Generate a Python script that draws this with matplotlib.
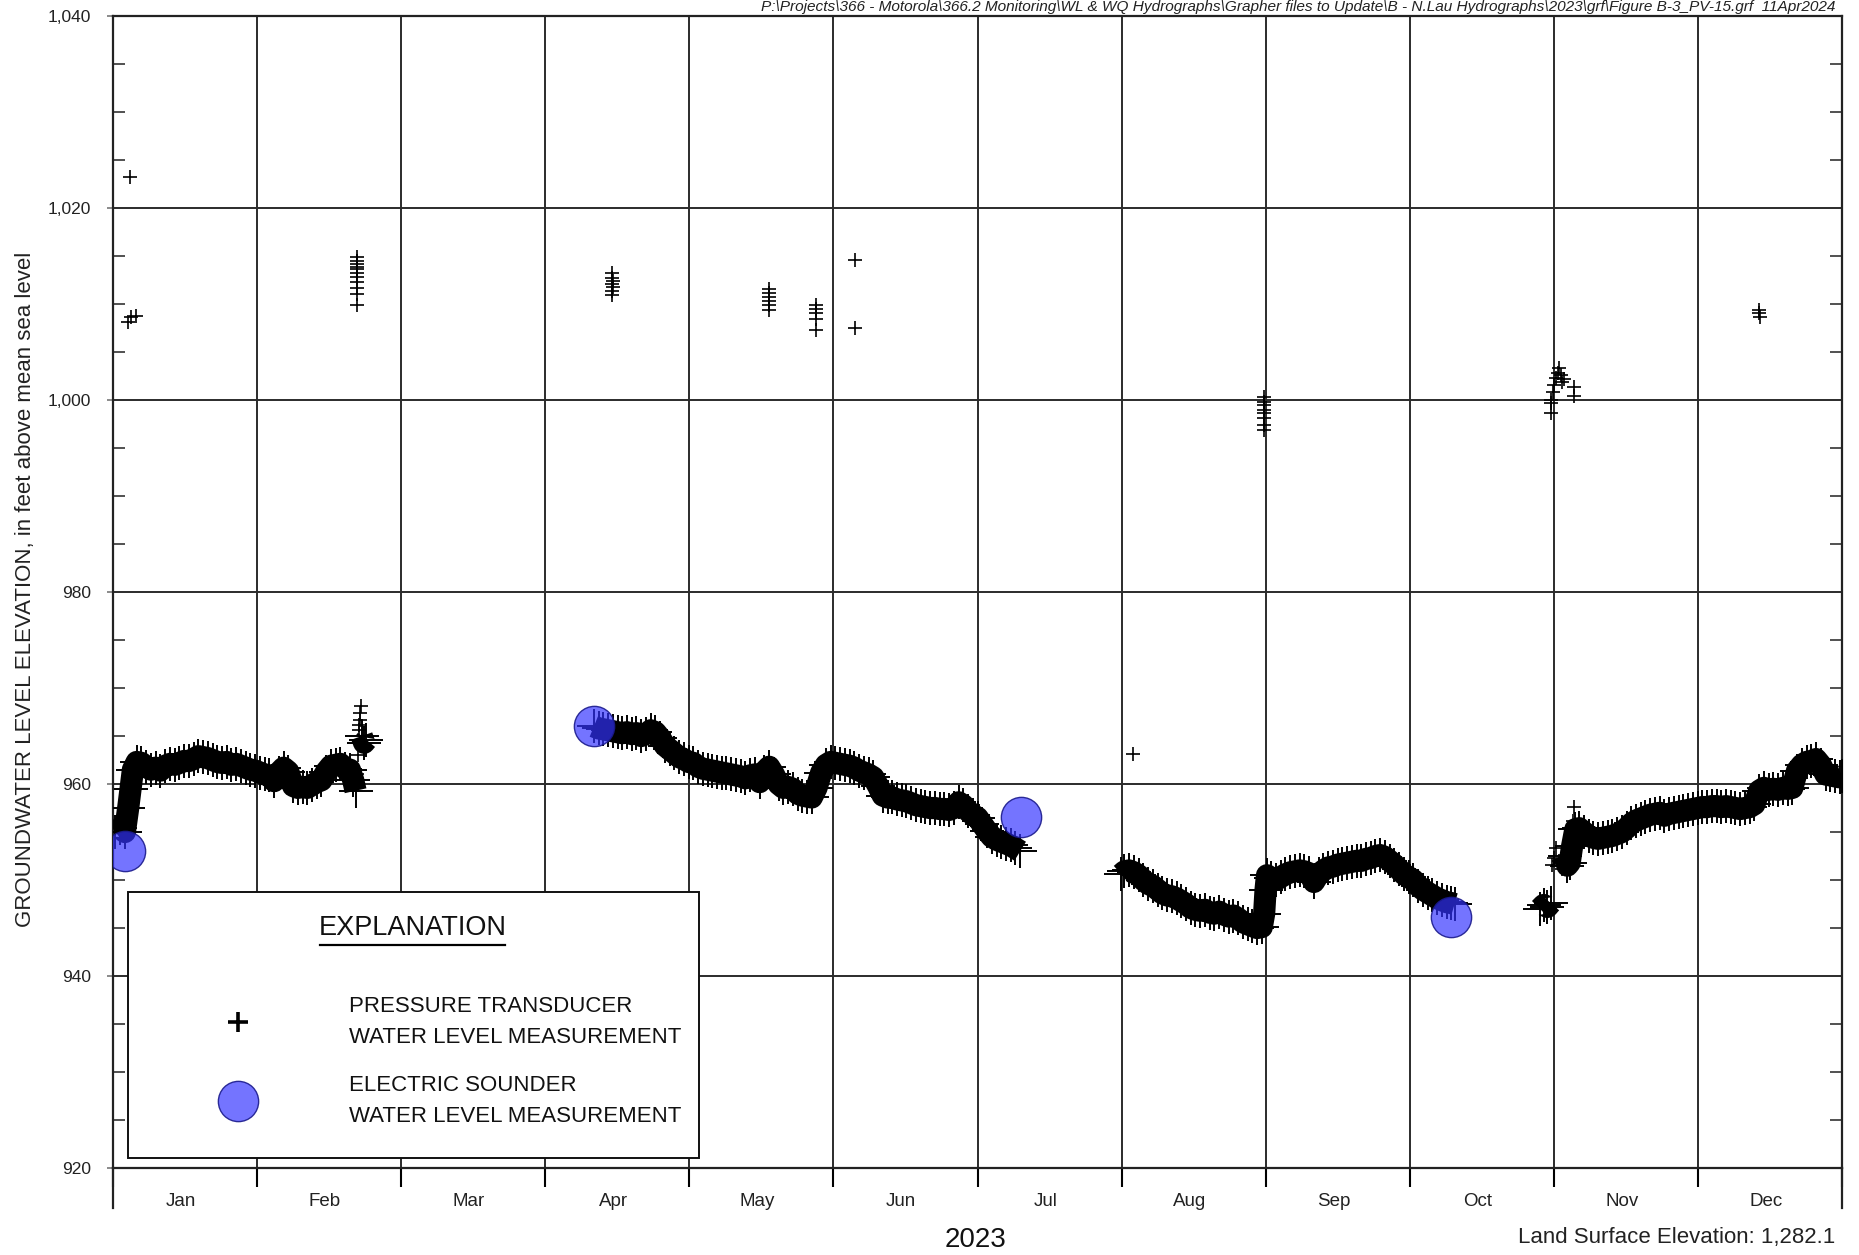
import numpy as np
import matplotlib.pyplot as plt
from matplotlib.ticker import MultipleLocator, FixedLocator, NullFormatter, FuncFormatter
from matplotlib.patches import Rectangle

plt.rcParams["font.family"] = ["Liberation Sans Narrow", "Liberation Sans", "DejaVu Sans"]

MONTHS = ["Jan", "Feb", "Mar", "Apr", "May", "Jun",
          "Jul", "Aug", "Sep", "Oct", "Nov", "Dec"]
YEAR = "2023"

# pressure transducer record, (day of year, elevation ft msl), one list per logger run
PT_JAN_FEB = [
    (0.5, 955.0), (1.5, 955.4), (2.5, 955.0), (3.2, 957.5), (3.7, 959.5), (4.2, 961.5),
    (5, 962.3), (6, 962.2), (7, 961.8), (8, 961.5), (9, 961.7), (10, 961.4),
    (11, 961.9), (12, 962.1), (13, 962.0), (14, 962.2), (15, 962.4), (16, 962.4),
    (17, 962.6), (18, 962.9), (19, 962.8), (20, 962.7), (21, 962.5), (22, 962.3),
    (23, 962.2), (24, 962.3), (25, 962.0), (26, 962.1), (27, 961.9), (28, 961.7),
    (29, 961.5), (30, 961.4), (31, 961.2), (32, 961.0), (33, 960.9), (34, 960.3),
    (35, 961.2), (36, 961.7), (37, 961.3), (38, 959.8), (39, 959.6), (40, 959.7),
    (41, 959.6), (42, 959.9), (43, 960.2), (44, 960.4), (45, 961.3), (46, 961.9),
    (47, 962.0), (48, 962.1), (49, 961.6), (50, 961.5), (50.7, 960.4), (51.2, 959.3),
]
PT_FEB_END = [(52.5, 965.0), (53.0, 964.3), (53.5, 964.6)]
PT_APR_JUN = [
    (101.5, 966.0), (102.5, 965.8), (103.5, 965.7), (104.5, 965.6), (105.5, 965.5),
    (106.5, 965.4), (107.5, 965.3), (108.5, 965.4), (109.5, 965.2), (110.5, 965.3),
    (111.5, 965.0), (112.5, 965.2), (113.5, 965.6), (114.5, 965.4), (115.5, 964.8),
    (116.5, 964.0), (117.5, 963.6), (118.5, 963.2), (119.5, 962.8), (120.5, 962.6),
    (121.5, 962.3), (122.5, 962.2), (123.5, 961.8), (124.5, 961.6), (125.5, 961.5),
    (126.5, 961.4), (127.5, 961.3), (128.5, 961.2), (129.5, 961.1), (130.5, 961.0),
    (131.5, 960.9), (132.5, 960.8), (133.5, 960.6), (134.5, 960.9), (135.5, 961.0),
    (136.5, 960.2), (137.5, 961.3), (138.5, 961.8), (139.5, 961.0), (140.5, 960.0),
    (141.5, 959.6), (142.5, 959.7), (143.5, 959.5), (144.5, 959.0), (145.5, 958.8),
    (146.5, 958.7), (147.5, 958.6), (148.5, 959.6), (149.5, 961.2), (150.5, 962.0),
    (151.5, 962.3), (152.5, 962.2), (153.5, 962.1), (154.5, 962.0), (155.5, 961.9),
    (156.5, 961.7), (157.5, 961.4), (158.5, 961.2), (159.5, 961.0), (160.5, 960.7),
    (161.5, 959.8), (162.5, 958.8), (163.5, 958.6), (164.5, 958.6), (165.5, 958.4),
    (166.5, 958.3), (167.5, 958.2), (168.5, 958.0), (169.5, 957.8), (170.5, 957.7),
    (171.5, 957.6), (172.5, 957.5), (173.5, 957.5), (174.5, 957.4), (175.5, 957.4),
    (176.5, 957.3), (177.5, 957.5), (178.5, 958.1), (179.5, 957.8), (180.5, 957.2),
    (181.5, 956.8), (182.5, 956.5), (183.5, 955.8), (184.5, 955.1), (185.5, 954.5),
    (186.5, 954.2), (187.5, 954.0), (188.5, 953.8), (189.5, 953.6), (190.5, 953.3),
    (191.5, 953.0),
]
PT_AUG_OCT = [
    (212.8, 950.6), (213.5, 950.9), (214.5, 951.0), (215.5, 950.8), (216.5, 950.5),
    (217.5, 950.0), (218.5, 949.6), (219.5, 949.4), (220.5, 949.0), (221.5, 948.6),
    (222.5, 948.4), (223.5, 948.3), (224.5, 948.1), (225.5, 947.8), (226.5, 947.5),
    (227.5, 947.1), (228.5, 946.9), (229.5, 946.8), (230.5, 946.9), (231.5, 946.6),
    (232.5, 946.5), (233.5, 946.7), (234.5, 946.4), (235.5, 946.2), (236.5, 946.3),
    (237.5, 946.0), (238.5, 945.6), (239.5, 945.4), (240.5, 945.2), (241.5, 945.0),
    (242.5, 945.1), (243.0, 946.5), (243.3, 949.0), (243.6, 950.5), (244.5, 950.2),
    (245.5, 950.0), (246.5, 950.3), (247.5, 950.6), (248.5, 950.8), (249.5, 950.9),
    (250.5, 951.0), (251.5, 950.9), (252.5, 950.7), (253.5, 949.8), (254.5, 950.6),
    (255.5, 951.0), (256.5, 951.3), (257.5, 951.4), (258.5, 951.6), (259.5, 951.7),
    (260.5, 951.8), (261.5, 951.9), (262.5, 952.0), (263.5, 952.0), (264.5, 952.2),
    (265.5, 952.3), (266.5, 952.5), (267.5, 952.6), (268.5, 952.4), (269.5, 952.0),
    (270.5, 951.6), (271.5, 951.1), (272.5, 950.6), (273.5, 950.3), (274.5, 950.0),
    (275.5, 949.4), (276.5, 949.0), (277.5, 948.7), (278.5, 948.4), (279.5, 948.1),
    (280.5, 947.9), (281.5, 947.7), (282.5, 947.6), (283.2, 947.5),
]
PT_OCT_END = [(301.2, 947.0), (302.0, 947.4), (302.8, 947.2), (303.5, 947.6)]
PT_NOV_DEC = [
    (306.5, 952.5), (307.0, 951.5), (307.5, 951.8), (308.0, 953.5), (308.7, 955.3),
    (309.5, 955.4), (310.5, 955.0), (311.5, 954.6), (312.5, 954.4), (313.5, 954.3),
    (314.5, 954.4), (315.5, 954.5), (316.5, 954.6), (317.5, 954.8), (318.5, 955.0),
    (319.5, 955.4), (320.5, 955.9), (321.5, 956.2), (322.5, 956.4), (323.5, 956.6),
    (324.5, 956.8), (325.5, 956.9), (326.5, 957.0), (327.5, 956.7), (328.5, 956.9),
    (329.5, 957.0), (330.5, 957.1), (331.5, 957.2), (332.5, 957.3), (333.5, 957.4),
    (334.5, 957.5), (335.5, 957.6), (336.5, 957.6), (337.5, 957.7), (338.5, 957.7),
    (339.5, 957.6), (340.5, 957.7), (341.5, 957.6), (342.5, 957.5), (343.5, 957.4),
    (344.5, 957.5), (345.5, 957.6), (346.5, 957.9), (347.5, 959.3), (348.5, 959.6),
    (349.5, 959.4), (350.5, 959.5), (351.5, 959.4), (352.5, 959.6), (353.5, 959.5),
    (354.5, 959.6), (355.5, 961.4), (356.5, 962.0), (357.5, 962.3), (358.5, 962.4),
    (359.5, 962.6), (360.5, 962.0), (361.5, 961.0), (362.5, 960.9), (363.5, 960.8),
    (364.5, 960.7), (365.0, 960.8),
]

# isolated transducer readings (logger pulled / re-installed)
PT_SCATTER = [
    (3.6, 1023.2), (3.2, 1008.1), (3.8, 1008.6), (4.8, 1008.8),
    (51.6, 1014.9), (51.6, 1014.5), (51.6, 1014.2), (51.6, 1013.9), (51.6, 1013.6),
    (51.6, 1013.2), (51.6, 1012.8), (51.6, 1012.3), (51.6, 1011.7), (51.6, 1011.0),
    (51.6, 1009.9),
    (51.5, 961.0), (51.7, 963.0), (51.85, 965.6), (51.95, 966.1), (52.05, 966.7),
    (52.15, 967.4), (52.25, 968.1),
    (105.4, 1013.2), (105.4, 1012.7), (105.5, 1012.4), (105.4, 1012.1), (105.5, 1011.8),
    (105.4, 1011.4), (105.3, 1010.9),
    (138.4, 1011.6), (138.4, 1011.1), (138.5, 1010.7), (138.4, 1010.3), (138.5, 1009.9),
    (138.4, 1009.4),
    (148.4, 1009.9), (148.5, 1009.5), (148.4, 1009.1), (148.4, 1008.4), (148.4, 1007.3),
    (156.6, 1014.6), (156.6, 1007.5),
    (215.3, 963.1),
    (242.9, 1000.3), (242.9, 999.8), (242.9, 999.5), (242.9, 999.0), (242.9, 998.6),
    (242.9, 998.1), (242.9, 997.4), (242.9, 996.9),
    (303.6, 1000.0), (303.6, 999.7), (303.6, 998.6), (303.9, 1000.8), (304.2, 1001.6),
    (304.6, 1002.3), (305.0, 1002.8), (305.3, 1003.3), (305.6, 1002.6), (305.9, 1001.9),
    (306.2, 1002.2), (308.4, 1001.4), (308.4, 1000.4),
    (303.8, 951.6), (304.2, 952.3), (304.6, 953.3), (305.2, 952.0), (305.8, 951.2),
    (307.6, 953.5), (307.9, 954.7), (308.1, 955.4), (308.3, 956.1), (308.5, 957.6),
    (347.5, 1009.4), (347.5, 1009.1), (347.7, 1008.6),
]

# electric sounder hand measurements
ES_DAY = [2.5, 101.5, 191.6, 282.5]
ES_ELEV = [953.0, 966.0, 956.6, 946.2]

segments = [PT_JAN_FEB, PT_FEB_END, PT_APR_JUN, PT_AUG_OCT, PT_OCT_END, PT_NOV_DEC]
pt_day, pt_elev = [], []
for seg in segments:
    d, e = zip(*seg)
    pt_day += list(d) + [np.nan]
    pt_elev += list(e) + [np.nan]
sc_day, sc_elev = zip(*PT_SCATTER)

ES_FACE = (0.2, 0.2, 1.0, 0.68)
ES_EDGE = (0.1, 0.1, 0.55, 0.9)

fig = plt.figure(figsize=(18.59, 12.55), dpi=100)
ax = fig.add_axes([0.0608, 0.0693, 0.9301, 0.9179])

ax.plot(pt_day, pt_elev, color="black", lw=16, marker="+", ms=25, mew=1.4,
        solid_joinstyle="round", solid_capstyle="butt", zorder=3)
ax.plot(sc_day, sc_elev, ls="none", color="black", marker="+", ms=10, mew=1.2, zorder=3)
ax.plot(ES_DAY, ES_ELEV, ls="none", marker="o", ms=29,
        mfc=ES_FACE, mec=ES_EDGE, mew=1.0, zorder=5)

# month axis: equal-width months across the year
month_w = 365 / 12
edges = [month_w * k for k in range(13)]
mids = [month_w * (k + 0.5) - 0.9 for k in range(12)]
ax.set_xlim(0, 365)
ax.set_ylim(920, 1040)
ax.xaxis.set_major_locator(FixedLocator(edges))
ax.xaxis.set_major_formatter(NullFormatter())
ax.set_xticks(mids, MONTHS, minor=True)
ax.tick_params(axis="x", which="major", direction="out", length=14, width=1.5, color="black")
ax.tick_params(axis="x", which="minor", length=0, pad=18, labelsize=13.5, labelcolor="#222222")

ax.yaxis.set_major_locator(MultipleLocator(20))
ax.yaxis.set_minor_locator(MultipleLocator(5))
ax.yaxis.set_major_formatter(FuncFormatter(lambda v, p: f"{v:,.0f}"))
ax.tick_params(axis="y", which="major", direction="out", length=4, width=1.2,
               color="#777777", pad=12, labelsize=12.5, labelcolor="#222222")
ax.tick_params(axis="y", which="minor", direction="in", length=8.5, width=1.2,
               left=True, right=True, color="#333333")

ax.grid(True, which="major", color="#2b2b2b", lw=1.4)
ax.set_axisbelow(True)
for s in ax.spines.values():
    s.set_linewidth(1.6)
    s.set_color("#222222")

# longer ticks at both ends of the year
for xe in (0, 365):
    ax.plot([xe, xe], [0, -0.035], transform=ax.get_xaxis_transform(),
            color="#222222", lw=1.6, clip_on=False, zorder=6)

# explanation box
ax.add_patch(Rectangle((0.0087, 0.0087), 0.330, 0.231, transform=ax.transAxes,
                       fc="white", ec="#111111", lw=1.4, zorder=6))
ax.text(0.1735, 0.2083, "EXPLANATION", transform=ax.transAxes, ha="center", va="center",
        fontsize=19.5, color="#111111", zorder=7)
ax.plot([0.1197, 0.2267], [0.1936, 0.1936], transform=ax.transAxes, color="black",
        lw=1.6, zorder=7)
ax.plot([0.0723], [0.1267], transform=ax.transAxes, ls="none", marker="+", ms=14,
        mew=2.6, color="black", zorder=7)
ax.plot([0.0723], [0.0582], transform=ax.transAxes, ls="none", marker="o", ms=29,
        mfc=ES_FACE, mec=ES_EDGE, mew=1.0, zorder=7)
for y, s in [(0.1398, "PRESSURE TRANSDUCER"), (0.1137, "WATER LEVEL MEASUREMENT"),
             (0.0720, "ELECTRIC SOUNDER"), (0.0451, "WATER LEVEL MEASUREMENT")]:
    ax.text(0.1365, y, s, transform=ax.transAxes, ha="left", va="center",
            fontsize=16, color="#111111", zorder=7)

fig.text(0.0135, 0.530, "GROUNDWATER LEVEL ELEVATION, in feet above mean sea level",
         rotation=90, ha="center", va="center", fontsize=16, color="#222222")
fig.text(0.525, 0.012, YEAR, ha="center", va="center", fontsize=20, color="#111111")
fig.text(0.9871, 0.0143, "Land Surface Elevation: 1,282.1", ha="right", va="center",
         fontsize=16, color="#222222")
fig.text(0.9871, 0.9944,
         "P:\\Projects\\366 - Motorola\\366.2 Monitoring\\WL & WQ Hydrographs\\Grapher files to "
         "Update\\B - N.Lau Hydrographs\\2023\\grf\\Figure B-3_PV-15.grf  11Apr2024",
         ha="right", va="center", fontsize=11.1, style="italic", color="#222222")

fig.savefig("out.png", dpi=100)
